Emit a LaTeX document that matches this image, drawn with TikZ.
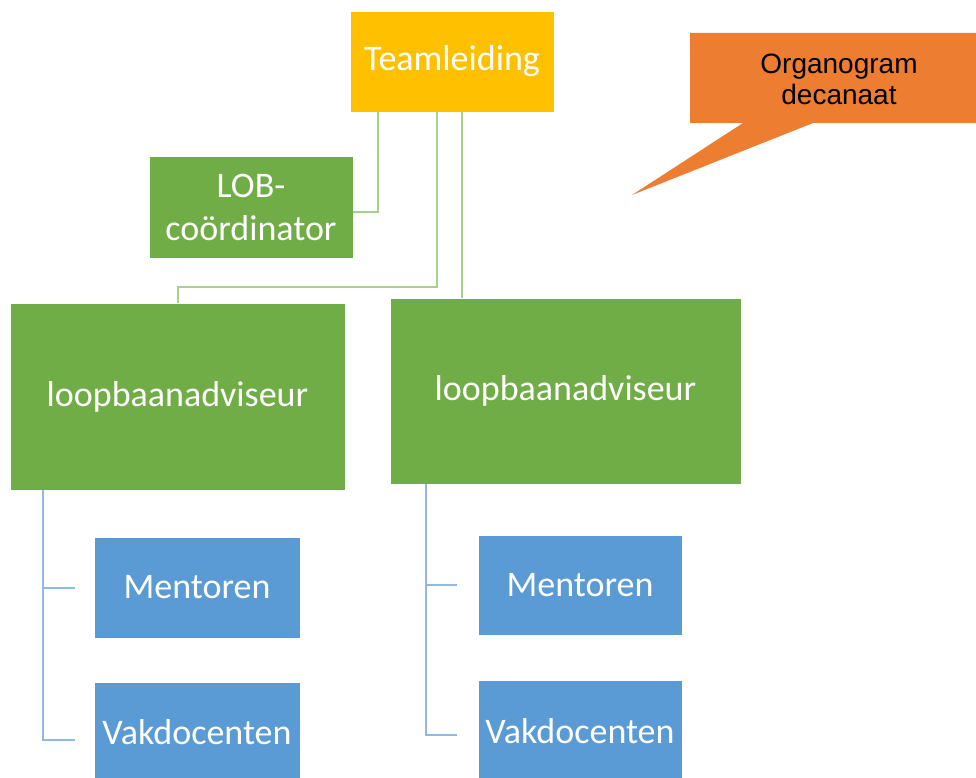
\documentclass[tikz,border=0pt]{standalone}
\usepackage{fontspec}
\setmainfont{Carlito}
\newfontfamily\notefont{Liberation Sans}
\usetikzlibrary{positioning}

\definecolor{leadyellow}{HTML}{FFC000}
\definecolor{boxgreen}{HTML}{70AD47}
\definecolor{boxblue}{HTML}{5B9BD5}
\definecolor{noteorange}{HTML}{ED7D31}
\definecolor{greenline}{HTML}{A9D18E}
\definecolor{blueline}{HTML}{8FB8E6}

\begin{document}
\begin{tikzpicture}[x=1pt, y=-1pt,
  orgbox/.style={rectangle, draw=white, thin, text=white, align=center,
    inner sep=0pt, font=\fontsize{36}{43}\selectfont},
  greenlink/.style={draw=greenline, line width=2pt},
  bluelink/.style={draw=blueline, line width=2pt}]

\clip (0,0) rectangle (976,778);
\useasboundingbox (0,0) rectangle (976,778);

% top of the chart
\node [orgbox, fill=leadyellow, minimum width=204, minimum height=101] (lead) at (452,61.5) {Teamleiding};
\node [orgbox, fill=boxgreen, minimum width=204, minimum height=102] (lob) at (251,207) {LOB-\\co\"ordinator};

% callout
\fill [noteorange] (690,33) -- (980,33) -- (980,123) -- (813,123) -- (632,195) -- (743,123) -- (690,123) -- cycle;
\node [align=center, font=\notefont\fontsize{28}{31}\selectfont] (note) at (839,79) {Organogram\\decanaat};

% advisers
\node [orgbox, fill=boxgreen, minimum width=335, minimum height=187] (adv1) at (177.5,396.5) {loopbaanadviseur};
\node [orgbox, fill=boxgreen, minimum width=351, minimum height=186] (adv2) at (565.5,391) {loopbaanadviseur};

% teams
\node [orgbox, fill=boxblue, minimum width=206, minimum height=101] (men1) at (197,587.5) {Mentoren};
\node [orgbox, fill=boxblue, minimum width=206, minimum height=101] (vak1) at (197,732.5) {Vakdocenten};
\node [orgbox, fill=boxblue, minimum width=204, minimum height=100] (men2) at (580,585) {Mentoren};
\node [orgbox, fill=boxblue, minimum width=204, minimum height=101] (vak2) at (580,731) {Vakdocenten};

% links from Teamleiding
\draw [greenlink] ([xshift=-74.5pt]lead.south) |- ([yshift=-5pt]lob.east);
\draw [greenlink] ([xshift=-15.5pt]lead.south) -- ++(0,175) -| (adv1.north);
\draw [greenlink] ([xshift=9.5pt]lead.south) -- ([xshift=9.5pt]lead.south |- adv2.north);

% links to teams
\draw [bluelink] ([xshift=33pt]adv1.south west) |- ([xshift=-19pt, yshift=-7pt]vak1.west);
\draw [bluelink] ([xshift=33pt]adv1.south west |- men1.west) -- ([xshift=-19pt]men1.west);
\draw [bluelink] ([xshift=36pt]adv2.south west) |- ([xshift=-21pt, yshift=-4pt]vak2.west);
\draw [bluelink] ([xshift=36pt]adv2.south west |- men2.west) -- ([xshift=-21pt]men2.west);

\end{tikzpicture}
\end{document}
